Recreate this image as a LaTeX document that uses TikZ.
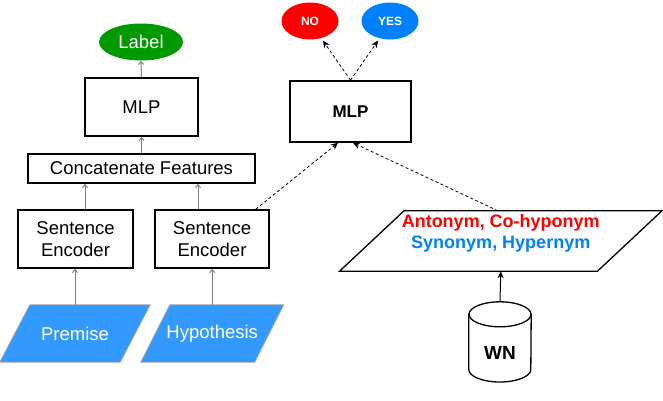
\documentclass[tikz,border=0pt]{standalone}
\usepackage{fontspec}
\setmainfont{Liberation Sans}
\usetikzlibrary{arrows.meta,calc,shapes.geometric,backgrounds}
\definecolor{lblgreen}{RGB}{0,153,0}
\definecolor{nored}{RGB}{255,0,0}
\definecolor{yesblue}{RGB}{0,128,255}
\definecolor{inblue}{RGB}{51,153,255}
\definecolor{txtblue}{RGB}{0,127,255}
\begin{document}
\begin{tikzpicture}[x=1pt,y=-1pt,
  box/.style={draw=black, line width=1.6pt, fill=white, align=center, inner sep=0pt, font=\fontsize{18.5}{22.2}\selectfont},
  oval/.style={ellipse, inner sep=0pt, text=white},
  slanted/.style={inner sep=0pt, align=center},
  garrow/.style={draw=gray, line width=1pt, -{Straight Barb[length=3pt,width=5pt]}},
  darrow/.style={draw=black, line width=0.8pt, dash pattern=on 3pt off 2.5pt, -{Stealth[length=7pt,width=6.5pt]}}
]
\useasboundingbox (0,0) rectangle (663,400);

% left branch
\node[oval, fill=lblgreen, minimum width=84pt, minimum height=37pt, font=\fontsize{18.5}{22.2}\selectfont] (label) at (141,42) {Label};
\node[box, minimum width=113pt, minimum height=58pt] (mlpL) at (141.5,107) {MLP};
\node[box, minimum width=227pt, minimum height=29pt] (concat) at (141.5,168.5) {Concatenate Features};
\node[box, minimum width=115pt, minimum height=58pt] (se1) at (75.5,239) {Sentence\\Encoder};
\node[box, minimum width=114pt, minimum height=58pt] (se2) at (212,239) {Sentence\\Encoder};
\node[slanted, text=white, minimum width=120pt, minimum height=57pt, font=\fontsize{18.5}{22.2}\selectfont] (prem) at (75,333.5) {Premise};
\node[slanted, text=white, minimum width=113.5pt, minimum height=57pt, font=\fontsize{18.5}{22.2}\selectfont] (hyp) at (212.25,333.5) {Hypothesis};

% right branch
\node[box, font=\bfseries\fontsize{17}{20}\selectfont, minimum width=121pt, minimum height=61pt] (mlpR) at (350.5,111.5) {MLP};
\node[oval, fill=nored, minimum width=57pt, minimum height=37pt, font=\bfseries\fontsize{12}{14}\selectfont] (no) at (310,21) {NO};
\node[oval, fill=yesblue, minimum width=57pt, minimum height=37pt, font=\bfseries\fontsize{12}{14}\selectfont] (yes) at (390,21) {YES};
\node[slanted, minimum width=257.5pt, minimum height=60pt] (rel) at (500.75,241) {};
\node[slanted, font=\bfseries\fontsize{18}{21}\selectfont] (reltext) at ($(rel.center)+(0,-8)$) {\textcolor{nored}{Antonym, Co-hyponym}\\\textcolor{txtblue}{Synonym, Hypernym}};
\node[inner sep=0pt, minimum width=62pt, minimum height=80pt, font=\bfseries\fontsize{19}{22}\selectfont] (wn) at (500,342) {\raisebox{-11pt}[\height][\depth]{WN}};

\begin{pgfonlayer}{background}
  \fill[white] (0,0) rectangle (663,400);
  \draw[draw=gray!70, line width=0.8pt, fill=inblue]
    ($(prem.north west)+(15,0)$) -- ($(prem.north east)+(15,0)$) -- ($(prem.south east)+(-15,0)$) -- ($(prem.south west)+(-15,0)$) -- cycle;
  \draw[draw=gray!70, line width=0.8pt, fill=inblue]
    ($(hyp.north west)+(14.5,0)$) -- ($(hyp.north east)+(14.5,0)$) -- ($(hyp.south east)+(-14.5,0)$) -- ($(hyp.south west)+(-14.5,0)$) -- cycle;
  \draw[draw=black, line width=1.3pt, fill=white]
    ($(rel.north west)+(32.25,0)$) -- ($(rel.north east)+(32.25,0)$) -- ($(rel.south east)+(-32.25,0)$) -- ($(rel.south west)+(-32.25,0)$) -- cycle;
  \draw[line width=1.3pt, fill=white]
    ($(wn.west)+(0,-27.5)$) -- ($(wn.west)+(0,27.5)$) arc[start angle=180, end angle=0, x radius=31, y radius=12.5] -- ($(wn.east)+(0,-27.5)$) -- cycle;
  \draw[line width=1.3pt, fill=white] ($(wn.north)+(0,12.5)$) ellipse[x radius=31, y radius=12.5];
\end{pgfonlayer}

% connectors left
\coordinate (c1) at ($(concat.south)+(-56.5,0)$);
\coordinate (c2) at ($(concat.south)+(56.5,0)$);
\draw[garrow] (mlpL.north) -- (label.south);
\draw[garrow] (concat.north) -- (mlpL.south);
\draw[garrow] (se1.north -| c1) -- (c1);
\draw[garrow] (se2.north -| c2) -- (c2);
\draw[garrow] (prem.north) -- (prem.north |- se1.south);
\draw[garrow] (hyp.north) -- (hyp.north |- se2.south);

% connectors right
\draw[darrow] ($(se2.north east)+(-14,0)$) -- ($(mlpR.south)+(-12.5,0)$);
\draw[darrow] ($(rel.north)+(-2.75,0)$) -- ($(mlpR.south)+(2.5,0)$);
\draw[darrow] (mlpR.north) -- ($(no.south)+(13,1)$);
\draw[darrow] (mlpR.north) -- ($(yes.south)+(-12,1)$);
\draw[line width=1pt, -{Stealth[length=7pt,width=6pt]}] (wn.north) -- (rel.south);
\end{tikzpicture}
\end{document}
